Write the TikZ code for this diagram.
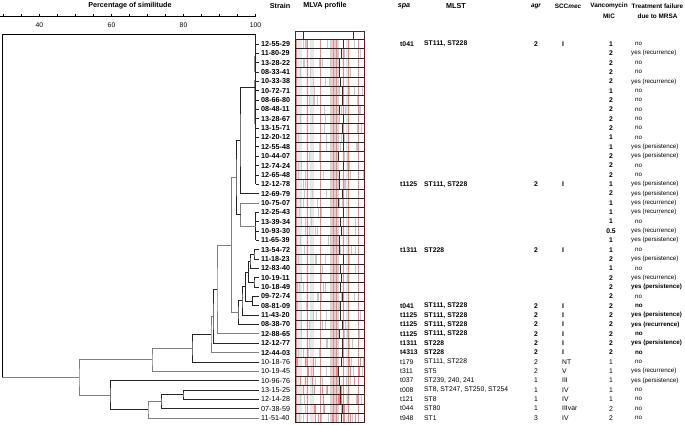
\documentclass[tikz,border=0pt]{standalone}
\usepackage{fontspec}
\setmainfont{Liberation Sans}
\begin{document}
\begin{tikzpicture}[x=1pt,y=-1pt,
  br/.style={line width=0.8pt, draw=black!85},
  brg/.style={line width=0.8pt, draw=black!50},
  txt/.style={font=\fontsize{6.8}{7.5}\selectfont, inner sep=0pt},
  stxt/.style={font=\bfseries\fontsize{7.2}{7.5}\selectfont, inner sep=0pt},
  ttxt/.style={font=\fontsize{6.2}{7.5}\selectfont, inner sep=0pt},
  hdr/.style={font=\bfseries\fontsize{7.2}{8}\selectfont, inner sep=0pt, align=center},
  hdrs/.style={font=\bfseries\fontsize{6.4}{8}\selectfont, inner sep=0pt, align=center},
  redl/.style={draw=red!50, line width=0.5pt},
  grayl/.style={draw=black!22, line width=0.5pt}]
\useasboundingbox (0,0) rectangle (685,425);

% ---------- headers ----------
\node[hdr] (hperc) at (130,6) {Percentage of similitude};
\node[hdr] (hstrain) at (280,6) {Strain};
\node[hdr] (hmlva) at (325,6) {MLVA profile};
\node[hdr] (hspa) at (404,6) {\itshape spa};
\node[hdr] (hmlst) at (456,6) {MLST};
\node[hdrs] (hagr) at (536,6) {\itshape agr};
\node[hdrs] (hscc) at (568,6) {SCC\textit{mec}};
\node[hdrs] (hvan) at (609,6) {Vancomycin};
\node[hdrs] (hmic) at (609,16.5) {MIC};
\node[hdrs] (htf) at (657.5,6) {Treatment failure};
\node[hdrs] (htf2) at (657.5,16.5) {due to MRSA};

% ---------- axis ----------
\coordinate (A0) at (0,16.5);
\coordinate (A1) at (255.5,16.5);
\draw[line width=0.6pt] (A0) -- (A1);
\foreach \p in {30,35,...,100}
  \draw[line width=0.5pt] ({255.5-(100-\p)*3.6},16.5) -- ++(0,-2.5);
\foreach \p in {40,60,80,100}
  \node[txt] (ax\p) at ({255.5-(100-\p)*3.6},25.5) {\p};

% ---------- leaves ----------
\foreach \i in {0,...,40}
  \coordinate (L\i) at (259,{44+9.35*\i});

% ---------- internal nodes ----------
\coordinate (Ttop) at (255.5,34);
\coordinate (Tbot) at (255.5,184.25);
\coordinate (T) at (255.5,87);
\coordinate (K) at (255.5,226.3);
\coordinate (N240) at (240,140.3);
\coordinate (N241) at (240.5,214.6);
\coordinate (N236) at (236,177.5);
\coordinate (NA) at (254,254.4);
\coordinate (NB) at (250,261.4);
\coordinate (NC) at (254,282.4);
\coordinate (ND) at (248.5,271.9);
\coordinate (NE) at (252.5,301.1);
\coordinate (NF) at (245.5,286.5);
\coordinate (NG) at (242,300.8);
\coordinate (NH) at (238,312.7);
\coordinate (N232) at (231.5,245.1);
\coordinate (N217) at (217,289.5);
\coordinate (N213) at (213,316.3);
\coordinate (N211) at (211,334.4);
\coordinate (N192) at (192,348.2);
\coordinate (N152) at (152,359.7);
\coordinate (N183) at (183,394.6);
\coordinate (N161) at (161,401.6);
\coordinate (N148) at (148,409.8);
\coordinate (N110) at (110,395.2);
\coordinate (N79) at (79,377.5);
\coordinate (R) at (2,377.5);

% ---------- dendrogram ----------
\draw[br] (Ttop) -- (Tbot);
\draw[line width=1.6pt, draw=black!45] (254.5,56) -- (254.5,72);
\draw[line width=1.6pt, draw=black!45] (254.5,80) -- (254.5,124);
\foreach \i in {0,...,15} \draw[br] (Ttop |- L\i) -- (L\i);
\draw[br] (T) -| (N240) |- (L16);
\draw[br] (K |- L18) -- (K |- L21);
\foreach \i in {18,...,21} \draw[br] (K |- L\i) -- (L\i);
\draw[brg] (L17) -| (N241) |- (K);
\draw[br] (N240) -| (N236) |- (N241);
\draw[br] (L22) -| (NA) |- (L23);
\draw[br] (NA) -| (NB) |- (L24);
\draw[br] (L25) -| (NC) |- (L26);
\draw[br] (NB) -| (ND) |- (NC);
\draw[br] (L27) -| (NE) |- (L28);
\draw[br] (ND) -| (NF) |- (NE);
\draw[br] (NF) -| (NG) |- (L29);
\draw[br] (NG) -| (NH) |- (L30);
\draw[brg] (N236) -| (N232) |- (NH);
\draw[brg] (N232) -| (N217) |- (L31);
\draw[br] (N217) -| (N213) |- (L32);
\draw[brg] (N213) -| (N211) |- (L33);
\draw[br] (N211) -| (N192) |- (L34);
\draw[brg] (N192) -| (N152) |- (L35);
\draw[br] (L37) -| (N183) |- (L38);
\draw[br] (N183) -| (N161) |- (L39);
\draw[brg] (N161) -| (N148) |- (L40);
\draw[br] (L36) -| (N110) |- (N148);
\draw[brg] (N152) -| (N79) |- (N110);
\draw[line width=0.9pt] (Ttop) -| (R);
\draw[brg] (R) -- (N79);

% ---------- MLVA profile ----------
\draw[black!80, line width=0.4pt] (295,31) rectangle (364,39.3);
\draw[black!80, line width=0.4pt] (303,31) -- (303,39.3);
\draw[black!80, line width=0.4pt] (353,31) -- (353,39.3);
\pgfmathsetseed{7}
\foreach \i in {0,...,40}{
  \pgfmathsetmacro\yt{44+9.35*\i-4.675}
  \pgfmathsetmacro\yb{44+9.35*\i+4.675}
  \fill[black!9] (297,\yt) rectangle (302,\yb);
  \fill[black!9] (310,\yt) rectangle (314,\yb);
  \fill[black!16] (330,\yt) rectangle (339,\yb);
  \fill[black!9] (346,\yt) rectangle (350,\yb);
  \foreach \k in {1,...,5}{
    \pgfmathsetmacro\xr{296+rnd*67}
    \draw[grayl] (\xr,\yt) -- (\xr,\yb);
  }
  \foreach \xx in {296,307,320,333,336.5,343,348,358}
    \draw[redl] (\xx,\yt) -- (\xx,\yb);
  \ifnum\i>33
    \foreach \k in {1,...,6}{
      \pgfmathsetmacro\xr{297+rnd*64}
      \draw[redl] (\xr,\yt) -- (\xr,\yb);
    }
  \fi
  \pgfmathsetmacro\xd{338.5+rnd*5}
  \draw[black!80, line width=0.6pt] (\xd,\yt) -- (\xd,\yb);
  \draw[black!85, line width=0.4pt] (295,\yt) rectangle (364,\yb);
}
\draw[red!60!black, line width=0.6pt] (364,39.3) -- (364,422.7);

% ---------- strains ----------
\foreach \s [count=\i from 0] in {12-55-29,11-80-29,13-28-22,08-33-41,10-33-38,10-72-71,08-66-80,08-48-11,13-28-67,13-15-71,12-20-12,12-55-48,10-44-07,12-74-24,12-65-48,12-12-78,12-69-79,10-75-07,12-25-43,13-39-34,10-93-30,11-65-39,13-54-72,11-18-23,12-83-40,10-19-11,10-18-49,09-72-74,08-81-09,11-43-20,08-38-70,12-88-65,12-12-77,12-44-03,10-18-76,10-19-45,10-96-76,13-15-25,12-14-28,07-38-59,11-51-40}
  \node[stxt, anchor=west] (s\i) at (261,{44+9.35*\i}) {\ifnum\i>33\mdseries\fi\s};

% ---------- MIC ----------
\foreach \mic [count=\i from 0] in {1,2,2,2,2,1,2,2,2,2,1,1,2,2,2,1,2,1,1,1,0.5,1,1,2,1,2,2,2,2,2,2,2,2,2,1,1,1,1,1,2,2}
  \node[txt] (mic\i) at (611,{44+9.35*\i}) {\ifnum\i<34\bfseries\fi\mic};

% ---------- treatment failure ----------
\foreach \tf [count=\i from 0] in {no,yes (recurrence),no,no,yes (recurrence),no,no,no,no,no,no,yes (persistence),yes (persistence),no,no,yes (persistence),yes (persistence),yes (recurrence),yes (recurrence),no,yes (recurrence),yes (persistence),no,yes (persistence),no,yes (recurrence),yes (persistence),no,no,yes (persistence),yes (recurrence),no,yes (persistence),no,no,yes (recurrence),yes (persistence),no,no,no,no}
  \node[ttxt, anchor=west] (tf\i) at ({\ifnum\pdfstrcmp{\tf}{no}=0 635\else 631\fi},{44+9.35*\i}) {\ifnum\i=26\bfseries\fi\ifnum\i>27\ifnum\i<34\bfseries\fi\fi\tf};

% ---------- spa / MLST / agr / SCCmec ----------
\foreach \i/\spa/\mlst/\agr/\scc in {0/t041/{ST111, ST228}/2/I,15/t1125/{ST111, ST228}/2/I,22/t1311/ST228/2/I,28/t041/{ST111, ST228}/2/I,29/t1125/{ST111, ST228}/2/I,30/t1125/{ST111, ST228}/2/I,31/t1125/{ST111, ST228}/2/I,32/t1311/ST228/2/I,33/t4313/ST228/2/I,34/t179/{ST111, ST228}/2/NT,35/t311/ST5/2/V,36/t037/{ST239, 240, 241}/1/III,37/t008/{ST8, ST247, ST250, ST254}/1/IV,38/t121/ST8/1/IV,39/t044/ST80/1/IIIvar,40/t948/ST1/3/IV}{
  \node[txt, anchor=west] (spa\i) at (400,{44+9.35*\i}) {\ifnum\i<34\bfseries\fi\spa};
  \node[txt, anchor=west] (mlst\i) at (424,{44+9.35*\i}) {\ifnum\i<34\bfseries\fi\mlst};
  \node[txt] (agr\i) at (536,{44+9.35*\i}) {\ifnum\i<34\bfseries\fi\agr};
  \node[txt, anchor=west] (scc\i) at (562,{44+9.35*\i}) {\ifnum\i<34\bfseries\fi\scc};
}
\end{tikzpicture}
\end{document}
